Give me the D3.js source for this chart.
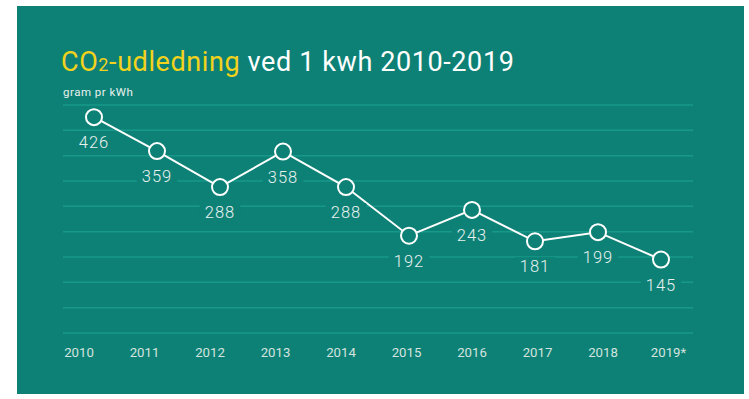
<!DOCTYPE html>
<html><head><meta charset="utf-8">
<script src="https://cdn.jsdelivr.net/npm/d3@7"></script>
<style>html,body{margin:0;padding:0;background:#fff;}svg{display:block;}</style>
</head><body>
<svg id="chart" width="749" height="399"></svg>
<script>
const years = ["2010","2011","2012","2013","2014","2015","2016","2017","2018","2019"];
const yearLabels = ["2010","2011","2012","2013","2014","2015","2016","2017","2018","2019*"];
const values = [426, 359, 288, 358, 288, 192, 243, 181, 199, 145];
const gridTicks = [0, 50, 100, 150, 200, 250, 300, 350, 400, 450];

const bg = "#0e8176", grid = "#17998a", txt = "#e9f1ef", yellow = "#f3d21c";
const svg = d3.select("#chart");
svg.append("rect").attr("x",17).attr("y",6).attr("width",727).attr("height",388).attr("fill",bg);

const y = d3.scaleLinear().domain([0,450]).range([333,105]);
const x = d3.scalePoint().domain(years).range([94,661]);
const xl = d3.scalePoint().domain(years).range([79,668.5]);

// grid
svg.append("g").selectAll("line").data(gridTicks).join("line")
  .attr("x1",63).attr("x2",693).attr("y1",d=>y(d)).attr("y2",d=>y(d))
  .attr("stroke",grid).attr("stroke-width",1.5);

// title
const title = svg.append("text").attr("x",61).attr("y",71)
  .attr("font-family","Roboto, sans-serif").attr("font-size",27).attr("letter-spacing",0.6);
title.append("tspan").attr("fill",yellow).text("CO");
title.append("tspan").attr("fill",yellow).attr("font-size",18).text("2");
title.append("tspan").attr("fill",yellow).text("-udledning");
title.append("tspan").attr("fill","#ffffff").text(" ved 1 kwh 2010-2019");

svg.append("text").attr("x",63).attr("y",96).attr("fill",txt)
  .attr("font-family","Roboto, sans-serif").attr("font-size",11.5).attr("letter-spacing",0.5)
  .text("gram pr kWh");

// x axis labels
svg.append("g").selectAll("text").data(years).join("text")
  .attr("x",d=>xl(d)).attr("y",356.7).attr("text-anchor","middle")
  .attr("fill","#d3e3df").attr("font-family","Roboto, sans-serif").attr("font-size",13.2)
  .text((d,i)=>yearLabels[i]);

// line
const line = d3.line().x((d,i)=>x(years[i])).y(d=>y(d));
svg.append("path").datum(values).attr("d",line).attr("fill","none")
  .attr("stroke","#ffffff").attr("stroke-width",2);

// value labels with background
const lg = svg.append("g").selectAll("g").data(values).join("g");
lg.append("text")
  .attr("x",(d,i)=>x(years[i])).attr("y",d=>y(d)+31)
  .attr("text-anchor","middle").attr("fill",txt)
  .attr("font-family","Roboto, sans-serif").attr("font-weight",300).attr("font-size",16.5).attr("letter-spacing",1)
  .text(d=>d);
lg.each(function(){
  const g = d3.select(this); const t = g.select("text"); const b = t.node().getBBox();
  g.insert("rect","text").attr("x",b.x-5).attr("y",b.y).attr("width",b.width+10).attr("height",b.height).attr("fill",bg);
});

// circles
svg.append("g").selectAll("circle").data(values).join("circle")
  .attr("cx",(d,i)=>x(years[i])).attr("cy",d=>y(d)).attr("r",8)
  .attr("fill",bg).attr("stroke","#ffffff").attr("stroke-width",2);
</script>
</body></html>
